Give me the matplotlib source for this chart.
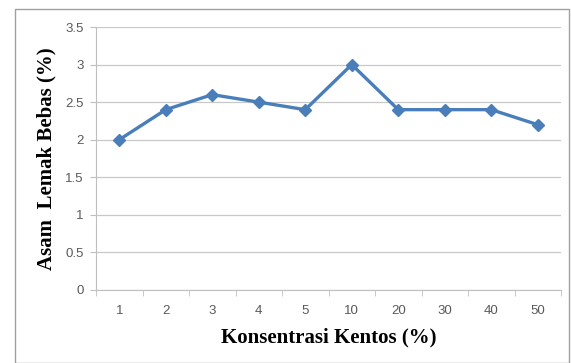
import matplotlib
matplotlib.use("Agg")
import matplotlib.pyplot as plt
from matplotlib.patches import Rectangle
from matplotlib.ticker import FixedLocator

categories = ["1", "2", "3", "4", "5", "10", "20", "30", "40", "50"]
values = [2.0, 2.4, 2.6, 2.5, 2.4, 3.0, 2.4, 2.4, 2.4, 2.2]
yticks = [0, 0.5, 1, 1.5, 2, 2.5, 3, 3.5]
ytick_labels = ["0", "0.5", "1", "1.5", "2", "2.5", "3", "3.5"]

fig = plt.figure(figsize=(5.71, 3.63), dpi=100)
fig.patches.append(Rectangle((15/571, 0), (569-15)/571, 1 - 9/363, transform=fig.transFigure,
                             fill=False, edgecolor="#a0a0a0", linewidth=1.0))
ax = fig.add_axes([96/571, 1 - 290/363, (561-96)/571, (290-27)/363])

x = list(range(len(categories)))
ax.plot(x, values, color="#4a7ebb", linewidth=2.4, marker="D", markersize=6.5,
        markerfacecolor="#4a7ebb", markeredgecolor="#4a7ebb", zorder=3)

ax.set_xlim(-0.5, len(categories) - 0.5)
ax.set_ylim(0, 3.5)
ax.set_yticks(yticks)
ax.set_yticklabels(ytick_labels)
ax.set_xticks(x)
ax.set_xticklabels(categories)
ax.xaxis.set_minor_locator(FixedLocator([i - 0.5 for i in range(len(categories) + 1)]))
ax.tick_params(axis="x", which="major", length=0, pad=11, labelsize=9.5, labelcolor="#595959")
ax.tick_params(axis="x", which="minor", length=4, color="#bfbfbf", direction="out")
ax.tick_params(axis="y", length=4, color="#bfbfbf", labelsize=9.5, labelcolor="#595959", pad=5)
for lab in ax.get_xticklabels() + ax.get_yticklabels():
    lab.set_family("Liberation Sans")

ax.grid(axis="y", color="#c8c8c8", linewidth=0.9)
ax.set_axisbelow(True)
for s in ["top", "right"]:
    ax.spines[s].set_visible(False)
ax.spines["left"].set_color("#bfbfbf")
ax.spines["bottom"].set_color("#bfbfbf")

ax.set_xlabel("Konsentrasi Kentos (%)", family="Liberation Serif", fontweight="bold",
              fontsize=15, labelpad=7)
ax.set_ylabel("Asam  Lemak Bebas (%)", family="Liberation Serif", fontweight="bold",
              fontsize=15, labelpad=6)

fig.savefig("out.png", dpi=100)
